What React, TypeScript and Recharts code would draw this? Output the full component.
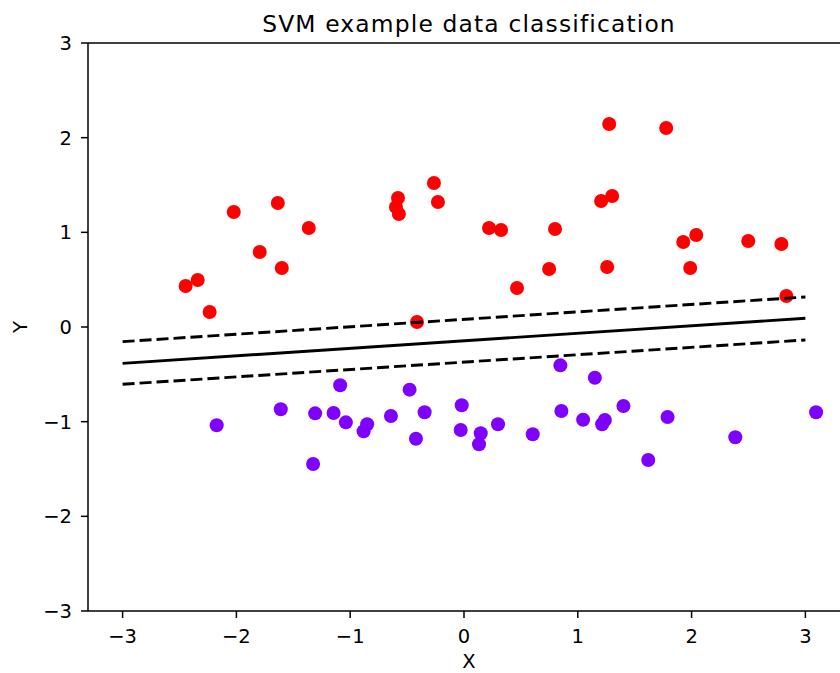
import { ScatterChart, Scatter, XAxis, YAxis, ReferenceLine } from "recharts";

// class +1 (red)
const redX = [
  -2.446, -2.34, -2.235, -2.023, -1.795, -1.636, -1.601, -1.364, -0.598, -0.58,
  -0.572, -0.413, -0.264, -0.229, 0.22, 0.326, 0.466, 0.8, 0.748, 1.276,
  1.205, 1.302, 1.258, 1.777, 1.927, 2.041, 1.988, 2.498, 2.789, 2.833,
];
const redY = [
  0.433, 0.496, 0.158, 1.215, 0.792, 1.31, 0.623, 1.046, 1.268, 1.363,
  1.194, 0.053, 1.521, 1.32, 1.046, 1.025, 0.412, 1.035, 0.613, 2.144,
  1.331, 1.384, 0.634, 2.102, 0.898, 0.972, 0.623, 0.908, 0.877, 0.327,
];

// class -1 (purple)
const purpleX = [
  -2.173, -1.61, -1.326, -1.308, -1.088, -1.146, -1.038, -0.851, -0.882, -0.642,
  -0.478, -0.346, -0.422, -0.02, -0.029, 0.147, 0.132, 0.299, 0.604, 0.847,
  0.856, 1.15, 1.047, 1.238, 1.214, 1.401, 1.619, 1.789, 2.384, 3.094,
];
const purpleY = [
  -1.038, -0.869, -1.447, -0.912, -0.616, -0.908, -1.007, -1.028, -1.102, -0.94,
  -0.662, -0.901, -1.18, -0.827, -1.088, -1.123, -1.239, -1.028, -1.133, -0.405,
  -0.887, -0.536, -0.979, -0.982, -1.028, -0.834, -1.405, -0.951, -1.165, -0.901,
];

// decision boundary and margins
const lineX = [-3, 3];
const boundaryY = [-0.384, 0.092];
const upperY = [-0.155, 0.317];
const lowerY = [-0.605, -0.137];

const xTicks = [-3, -2, -1, 0, 1, 2, 3];
const yTicks = [-3, -2, -1, 0, 1, 2, 3];

const zip = (xs: number[], ys: number[]) => xs.map((x, i) => ({ x, y: ys[i] }));

const font = "DejaVu Sans";
const fs = 19.5;
const fmt = (v: number) => String(v).replace("-", "\u2212");

const dot = (color: string) => (p: any) => <circle cx={p.cx} cy={p.cy} r={7} fill={color} />;
const noDot = () => <g />;

export default function App() {
  return (
    <div style={{ position: "fixed", left: 0, top: 0, width: 840, height: 673, overflow: "hidden", background: "#fff" }}>
      <div
        style={{
          position: "absolute", left: 0, width: 938, top: 10, textAlign: "center",
          fontFamily: font, fontSize: 23.4, letterSpacing: 1.15, lineHeight: "28px", color: "#000",
        }}
      >
        SVM example data classification
      </div>
      <ScatterChart width={880} height={673} margin={{ top: 43, right: 30, left: 0, bottom: 0 }}>
        <XAxis
          type="number"
          dataKey="x"
          domain={[-3.304, 3.392]}
          allowDataOverflow
          ticks={xTicks}
          tickFormatter={fmt}
          height={62}
          tickSize={7}
          tickMargin={11}
          axisLine={{ stroke: "#000", strokeWidth: 1.5 }}
          tickLine={{ stroke: "#000", strokeWidth: 1.5 }}
          tick={{ fill: "#000", fontSize: fs, fontFamily: font }}
          label={{
            content: () => (
              <text x={469} y={668} textAnchor="middle" fontSize={fs} fontFamily={font} fill="#000">X</text>
            ),
          }}
        />
        <YAxis
          type="number"
          dataKey="y"
          domain={[-3, 3]}
          allowDataOverflow
          ticks={yTicks}
          tickFormatter={fmt}
          width={88}
          tickSize={7}
          tickMargin={9}
          axisLine={{ stroke: "#000", strokeWidth: 1.5 }}
          tickLine={{ stroke: "#000", strokeWidth: 1.5 }}
          tick={{ fill: "#000", fontSize: fs, fontFamily: font }}
          label={{
            content: () => (
              <text x={27} y={327} textAnchor="middle" fontSize={fs} fontFamily={font} fill="#000" transform="rotate(-90 27 327)">Y</text>
            ),
          }}
        />
        <ReferenceLine y={3} stroke="#000" strokeWidth={1.5} />
        <Scatter data={zip(redX, redY)} fill="#ff0000" shape={dot("#ff0000")} isAnimationActive={false} />
        <Scatter data={zip(purpleX, purpleY)} fill="#8000ff" shape={dot("#8000ff")} isAnimationActive={false} />
        <Scatter
          data={zip(lineX, boundaryY)}
          line={{ stroke: "#000", strokeWidth: 2.9 }}
          shape={noDot}
          isAnimationActive={false}
        />
        <Scatter
          data={zip(lineX, upperY)}
          line={{ stroke: "#000", strokeWidth: 2.9, strokeDasharray: "12 5" }}
          shape={noDot}
          isAnimationActive={false}
        />
        <Scatter
          data={zip(lineX, lowerY)}
          line={{ stroke: "#000", strokeWidth: 2.9, strokeDasharray: "12 5" }}
          shape={noDot}
          isAnimationActive={false}
        />
      </ScatterChart>
    </div>
  );
}
